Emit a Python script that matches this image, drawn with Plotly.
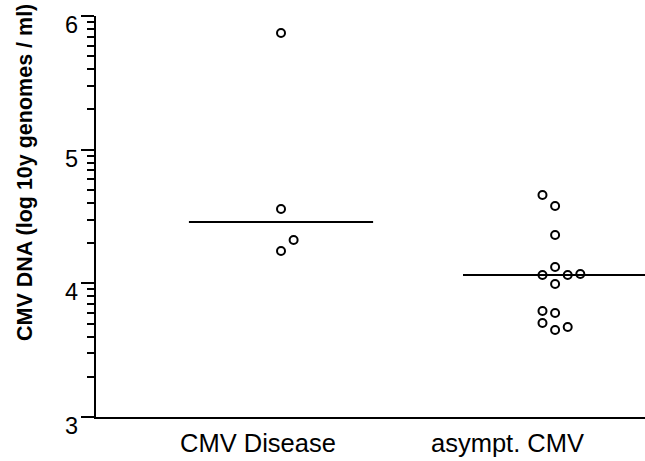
import math
import plotly.graph_objects as go

# ---- data ----
groups = ["CMV Disease", "asympt. CMV"]
group_pos = [1, 2]

disease_values = [5.873, 4.556, 4.324, 4.242]
disease_slots = [0, 0, 1, 0]

asympt_values = [4.661, 4.579, 4.362, 4.122, 4.062, 3.995, 4.062, 4.070,
                 3.793, 3.778, 3.703, 3.651, 3.673]
asympt_slots = [-1, 0, 0, 0, -1, 0, 1, 2, -1, 0, -1, 0, 1]

median_values = [4.459, 4.062]

y_ticks = [3, 4, 5, 6]
y_tick_text = ["3", "4", "5", "6"]

label_pos = [0.916, 1.825]

# ---- style ----
STEP = 0.046      # horizontal spacing for overlapping points
HALF = 0.336      # half-width of the median bar
FONT = "Arial, Liberation Sans, sans-serif"
L, R, T, B, W, H = 96, 0, 16, 44, 645, 461

fig = go.Figure()

for vals, slots, gx in [(disease_values, disease_slots, group_pos[0]),
                        (asympt_values, asympt_slots, group_pos[1])]:
    fig.add_trace(go.Scatter(
        x=[gx + s * STEP for s in slots], y=vals, mode="markers",
        marker=dict(symbol="circle-open", size=8, color="black",
                    line=dict(width=2, color="black")),
        showlegend=False, hoverinfo="y"))

for gx, m in zip(group_pos, median_values):
    fig.add_trace(go.Scatter(
        x=[gx - HALF, gx + HALF], y=[m, m], mode="lines",
        line=dict(color="black", width=2), showlegend=False, hoverinfo="skip"))

# invisible trace to anchor the minor-tick axis
fig.add_trace(go.Scatter(x=[group_pos[0]], y=[y_ticks[0]], yaxis="y2",
                         mode="markers", marker=dict(opacity=0),
                         showlegend=False, hoverinfo="skip"))

minor_vals = [d + math.log10(k) for d in y_ticks[:-1] for k in range(2, 10)]

fig.update_layout(
    width=W, height=H,
    margin=dict(l=L, r=R, t=T, b=B),
    plot_bgcolor="white", paper_bgcolor="white",
    font=dict(family=FONT, color="black"),
    xaxis=dict(range=[0.325, 2.328], showgrid=False, zeroline=False,
               showline=True, linecolor="black", linewidth=2,
               showticklabels=False, ticks="", automargin=False),
    yaxis=dict(range=[3, 6], showgrid=False, zeroline=False,
               showline=True, linecolor="black", linewidth=2,
               tickmode="array", tickvals=y_ticks, ticktext=y_tick_text,
               showticklabels=False,
               ticks="outside", ticklen=13, tickwidth=2, tickcolor="black",
               automargin=False),
    yaxis2=dict(range=[3, 6], overlaying="y", side="left", anchor="x",
                showgrid=False, zeroline=False, showline=True,
                linecolor="black", linewidth=2,
                tickmode="array", tickvals=minor_vals, showticklabels=False,
                ticks="outside", ticklen=7, tickwidth=1.5, tickcolor="black",
                automargin=False),
)

# y tick labels sit just below their tick, as in the original
for v, t in zip(y_ticks, y_tick_text):
    fig.add_annotation(x=(80 - L) / (W - L - R), y=v, xref="paper", yref="y",
                       xanchor="right", yanchor="middle", yshift=-9,
                       text=t, showarrow=False,
                       font=dict(size=23.5, family=FONT, color="black"))

for lp, g in zip(label_pos, groups):
    fig.add_annotation(x=lp, y=0, xref="x", yref="paper", yanchor="top",
                       yshift=-10, text=g, showarrow=False,
                       font=dict(size=25.5, family=FONT, color="black"))

fig.add_annotation(x=(25 - L) / (W - L - R), y=(H - B - 173) / (H - T - B),
                   xref="paper", yref="paper", xanchor="center",
                   yanchor="middle",
                   text="<b>CMV DNA (log 10y genomes / ml)</b>",
                   showarrow=False, textangle=-90,
                   font=dict(size=21.5, family=FONT, color="black"))

fig.write_html("out.html", config={"displayModeBar": False},
               post_script="document.body.style.margin='0';"
                           "document.body.style.overflow='hidden';")
